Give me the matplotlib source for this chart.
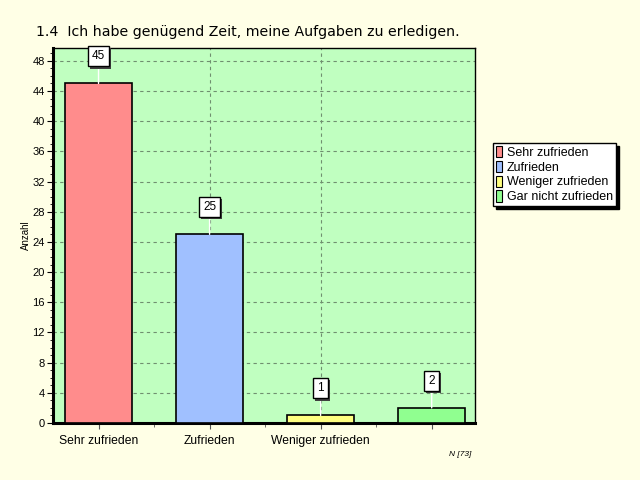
import matplotlib
matplotlib.use("Agg")
import matplotlib.pyplot as plt
import matplotlib.patheffects as pe
import numpy as np
from matplotlib.ticker import MultipleLocator

# Daten
kategorien = ["Sehr zufrieden", "Zufrieden", "Weniger zufrieden", "Gar nicht zufrieden"]
anzahl = [45, 25, 1, 2]
tick_texte = ["Sehr zufrieden", "Zufrieden", "Weniger zufrieden", ""]
farben = ["#ff8c8c", "#a0c0ff", "#ffff80", "#90ff90"]
titel = "1.4  Ich habe genügend Zeit, meine Aufgaben zu erledigen."
n_text = "N [73]"

plt.rcParams["font.family"] = ["Liberation Sans", "DejaVu Sans"]

fig = plt.figure(figsize=(6.4, 4.8), dpi=100, facecolor="#ffffe6")
ax = fig.add_axes([0.0828, 0.1188, 0.6594, 0.78125], facecolor="#c0ffc0")

x = np.arange(len(anzahl))
balken = ax.bar(x, anzahl, width=0.6, color=farben, edgecolor="black",
                linewidth=1.2, zorder=3, label=kategorien)

# Gitter
ax.yaxis.set_major_locator(MultipleLocator(4))
ax.yaxis.set_minor_locator(MultipleLocator(1))
ax.grid(axis="y", which="major", color="#6f8f6f", linestyle=(0, (3, 3)), linewidth=0.8, zorder=1)
for xi in x[1:-1]:
    ax.axvline(xi, color="#6f8f6f", linestyle=(0, (3, 3)), linewidth=0.8, zorder=1)

ax.set_xticks(x)
ax.set_xticklabels(tick_texte, fontsize=8.7)
ax.set_xticks(np.arange(-0.5, len(anzahl), 0.5), minor=True)
ax.tick_params(axis="x", which="major", length=4, pad=5, color="#555555")
ax.tick_params(axis="x", which="minor", length=3, color="#555555")
ax.tick_params(axis="y", which="major", length=4, labelsize=8, pad=2)
ax.tick_params(axis="y", which="minor", length=2)

ax.set_xlim(-0.41, len(anzahl) - 0.61)
ax.set_ylim(0, 49.7)

for s in ["left", "bottom"]:
    ax.spines[s].set_linewidth(2.2)
for s in ["top", "right"]:
    ax.spines[s].set_linewidth(1)

ax.set_ylabel("Anzahl", fontsize=7, labelpad=1)

# Wertebeschriftung
schatten = [pe.SimplePatchShadow(offset=(1.5, -1.5), shadow_rgbFace="#404040", alpha=1), pe.Normal()]
for xi, wert in zip(x, anzahl):
    ann = ax.annotate(str(wert), xy=(xi, wert), xytext=(0, 19.5), textcoords="offset points",
                      ha="center", va="center", fontsize=8.5, zorder=5,
                      bbox=dict(boxstyle="square,pad=0.35", fc="white", ec="black", lw=1),
                      arrowprops=dict(arrowstyle="-", color="white", lw=1, shrinkA=0, shrinkB=0))
    ann.get_bbox_patch().set_path_effects(schatten)

fig.text(36 / 640, 1 - 32 / 480, titel, fontsize=10.2, va="center", ha="left",
         family=["DejaVu Sans"])
fig.text(471 / 640, 1 - 455 / 480, n_text, fontsize=6, style="italic", ha="right", va="center")

leg = fig.legend(handles=balken, labels=kategorien, loc="upper left",
                 bbox_to_anchor=(493 / 640, 1 - 143 / 480), fontsize=9,
                 frameon=True, fancybox=False, edgecolor="black", framealpha=1,
                 shadow={"color": "black", "alpha": 1}, borderpad=0.25,
                 handlelength=0.45, handleheight=1.0, handletextpad=0.4,
                 labelspacing=0.15, borderaxespad=0)
for h in leg.legend_handles:
    h.set_linewidth(0.8)

fig.savefig("out.png", dpi=100, facecolor=fig.get_facecolor())
